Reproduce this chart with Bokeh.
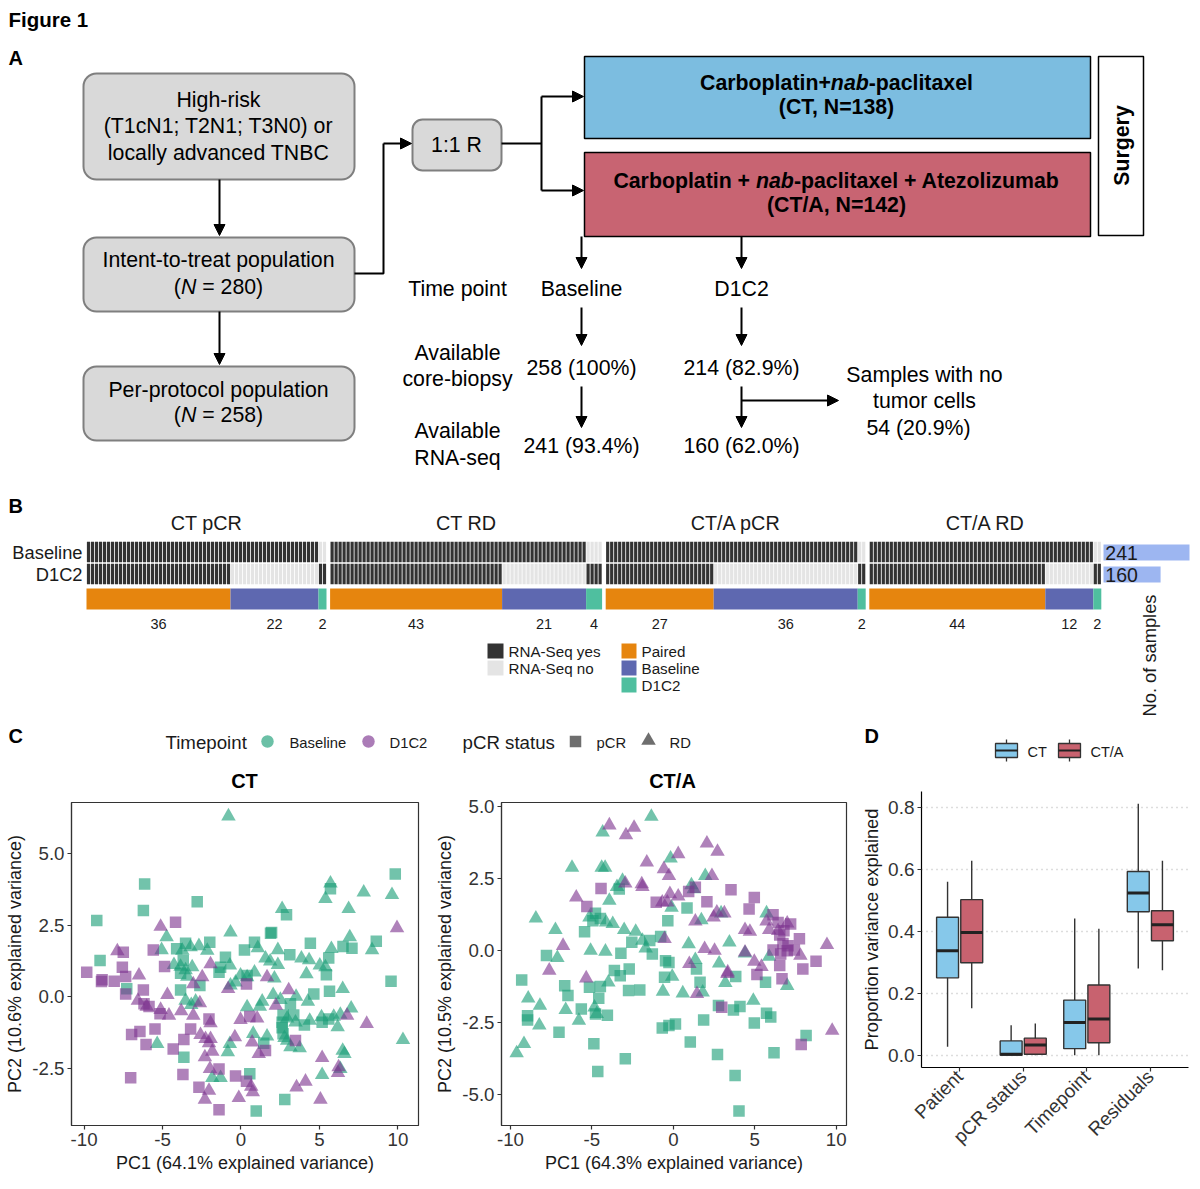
import numpy as np
from math import pi
from bokeh.plotting import figure
from bokeh.models import (Range1d, FixedTicker, NumeralTickFormatter, Arrow, NormalHead,
                          FactorRange, ColumnDataSource)
from bokeh.layouts import column, row
from bokeh.embed import file_html
from bokeh.resources import INLINE
from bokeh.core.properties import value
from bokeh.transform import dodge

FONT = "Liberation Sans"
TXT = "#1a1a1a"

# ======================= DATA =======================
# Panel A (study design)
itt_n = "280"
pp_n = "258"
ct_n = "138"
cta_n = "142"
timepoints = ["Baseline", "D1C2"]
core_biopsy = ["258 (100%)", "214 (82.9%)"]
rna_seq = ["241 (93.4%)", "160 (62.0%)"]
no_tumor = "54 (20.9%)"

# Panel B (sample overview)
groups = ["CT pCR", "CT RD", "CT/A pCR", "CT/A RD"]
paired = [36, 43, 27, 44]
base_only = [22, 21, 36, 12]
d1c2_only = [2, 4, 2, 2]
rna_rows = ["Baseline", "D1C2"]
rna_totals = [241, 160]

# Panel C (PCA) -- CT arm
ct_base_pcr_pc1 = [9.83, -6.14, 5.70, -2.79, -6.22, 2.90, -9.19, 1.88, 1.95, 8.62, -1.99, 4.42, 6.50, 7.07, -4.10, -3.53, 0.22, 0.86, 3.11, -0.99, 5.59, -8.98, -1.30, -3.68, 5.44, 9.56, -3.85, -1.40, 0.39, -2.62, -7.28, -3.85, 5.64, 4.64, 3.15, 2.68, 3.36, 5.17, 5.59, 4.04, 2.62, 2.62, 2.68, 1.45, -3.64, 0.56, 2.79, 0.97]
ct_base_pcr_pc2 = [4.30, 3.95, 3.78, 3.33, 3.02, 2.87, 2.67, 2.23, 2.25, 1.95, 1.91, 1.88, 1.76, 1.70, 1.68, 1.88, 1.64, 1.91, 1.47, 1.39, 1.36, 1.27, 1.04, 1.27, 0.77, 0.55, 0.83, 0.86, 0.75, 0.40, 0.28, 0.24, 0.20, 0.10, -0.24, -0.63, -0.63, -0.89, -0.77, -0.98, -0.89, -1.08, -1.29, -1.62, -2.11, -2.69, -3.59, -3.99]
ct_base_rd_pc1 = [-0.80, 5.70, 5.38, 7.82, 9.62, 6.86, 2.62, -0.67, -4.74, 6.93, 8.35, 5.76, -5.06, -3.74, -3.21, -2.68, -2.15, 1.07, 2.35, 1.56, 3.85, 4.34, 1.86, 2.35, -0.71, -4.27, -3.85, -3.53, -3.11, 5.02, 5.38, 4.17, -3.42, 0.39, 0.86, -0.03, 2.13, -0.67, -0.35, 6.48, 2.05, -3.53, -2.89, -3.17, 1.35, 2.51, 4.26, 3.51, 0.39, 1.20, 7.02, 2.94, 5.13, 5.91, 6.33, 3.47, 4.38, 6.16, 2.77, 2.94, 0.78, 1.66, -0.71, 3.15, 3.74, 10.32, -5.34, -0.84, 6.48, 6.59, 6.33, 5.17, -1.83, -1.30]
ct_base_rd_pc2 = [6.32, 3.97, 3.43, 3.66, 3.57, 3.08, 3.08, 2.26, 2.09, 2.09, 1.64, 1.68, 1.64, 1.62, 1.74, 1.78, 1.62, 1.71, 1.64, 1.35, 1.35, 1.29, 1.24, 1.12, 1.10, 1.12, 1.06, 0.94, 1.04, 1.10, 1.04, 0.80, 0.71, 0.69, 0.86, 0.75, 0.65, 0.40, 0.51, 0.28, 0.07, -0.13, -0.16, -0.28, -0.16, -0.10, -0.16, 0.01, -0.36, -0.34, -0.40, -0.75, -0.71, -0.69, -0.62, -0.89, -0.83, -1.06, -1.43, -1.53, -1.29, -1.38, -1.64, -1.76, -1.79, -1.50, -1.64, -1.93, -1.88, -1.99, -2.52, -2.73, -2.83, -2.83]
ct_d1c2_pcr_pc1 = [-4.17, -5.59, -7.50, -7.56, -4.87, -9.83, -7.35, -8.89, -8.08, -8.85, 0.35, -7.35, -6.22, -6.18, -5.86, -5.16, 0.56, -2.04, -3.21, -5.48, -6.44, -6.97, -3.64, 3.47, -6.05, -4.32, 1.56, -1.40, -3.70, -0.35, -7.03, 0.35, -2.68, -1.40]
ct_d1c2_pcr_pc2 = [2.61, 1.64, 1.56, 1.04, 1.06, 0.86, 0.71, 0.54, 0.55, 0.60, 0.45, 0.10, 0.24, -0.24, -0.34, -0.59, -0.69, -0.77, -1.12, -1.12, -1.21, -1.32, -1.49, -1.53, -1.67, -1.82, -1.88, -2.52, -2.72, -2.77, -2.83, -2.95, -3.16, -3.95]
ct_d1c2_rd_pc1 = [9.94, -5.12, -7.88, -1.94, -6.50, -2.47, 1.66, -3.04, -0.82, 3.04, -4.69, -6.57, -2.62, 2.22, -6.01, -5.12, -4.59, -3.81, -3.04, -0.03, 1.03, 6.76, 8.01, -1.94, -0.39, -2.58, -2.26, -1.94, -2.04, 0.71, -1.83, 1.13, -2.30, 5.17, -1.98, 6.22, 6.18, 0.65, 4.11, 3.54, -2.04, 0.75, -2.30, -0.14, 5.06]
ct_d1c2_rd_pc2 = [2.41, 2.46, 1.60, 1.15, 0.75, 0.69, 0.69, 0.45, 0.28, 0.24, 0.07, -0.13, -0.22, -0.30, -0.34, -0.45, -0.65, -0.50, -0.65, -0.80, -0.75, -0.65, -0.94, -0.92, -1.41, -1.33, -1.47, -1.47, -1.62, -1.59, -1.91, -1.99, -2.11, -2.13, -2.52, -2.46, -2.66, -3.14, -2.96, -3.16, -3.28, -3.33, -3.59, -3.53, -3.59]

# Panel C (PCA) -- CT/A arm
cta_base_pcr_pc1 = [-3.32, 0.84, -4.78, -4.94, -4.48, -0.34, -5.45, -0.78, -2.55, -1.45, -3.22, -1.29, -7.79, -0.48, -0.27, -3.62, -2.71, 1.42, 3.83, 5.66, -0.54, -9.31, -5.15, -4.48, -3.26, -6.67, -6.47, -2.75, -2.06, 1.64, -4.58, -5.65, -4.78, -4.05, -8.95, -8.95, -7.02, 2.77, 3.69, 4.09, 5.72, 5.98, 1.86, 4.97, -0.68, -0.27, 0.13, 8.15, -4.88, 1.04, 2.71, 6.18, -2.95, -4.64, 3.79, 4.03]
cta_base_pcr_pc2 = [2.14, 1.48, 1.30, 1.04, 1.12, 1.04, 0.66, 0.49, 0.29, 0.35, -0.09, -0.12, -0.17, -0.35, -0.41, -0.69, -0.64, -0.64, -0.90, -1.10, -0.93, -1.02, -1.27, -1.25, -0.87, -1.22, -1.56, -1.39, -1.37, -1.10, -1.66, -2.03, -2.20, -2.25, -2.26, -2.41, -2.84, -1.91, -2.06, -1.94, -2.18, -2.31, -2.41, -2.52, -2.69, -2.60, -2.55, -2.95, -3.24, -3.18, -3.61, -3.55, -3.76, -4.20, -4.34, -5.58]
cta_base_rd_pc1 = [-1.35, -4.34, -0.17, -6.22, -4.40, -4.19, 1.96, -3.12, -3.46, 1.11, 1.25, -3.93, -0.11, 2.93, 5.72, -8.44, -5.15, -4.13, -3.72, 1.72, -7.24, -3.02, -2.31, -1.90, 0.94, 3.44, -5.08, -4.17, -1.70, 4.40, 5.88, -7.12, 1.35, 2.81, 6.99, -0.07, -3.99, 3.19, 1.80, 0.58, -0.64, -8.91, -8.19, -6.61, -4.84, -4.70, -5.80, -8.23, 4.91, -9.17, -9.62]
cta_base_rd_pc2 = [4.66, 4.11, 3.21, 2.89, 2.89, 2.89, 2.60, 2.43, 2.22, 2.28, 2.14, 1.74, 1.50, 1.30, 1.30, 1.12, 1.16, 0.98, 0.93, 1.06, 0.72, 0.72, 0.66, 0.35, 0.23, 0.29, 0.00, -0.03, 0.08, -0.09, -0.21, -0.25, -0.32, -0.44, -1.22, -0.90, -1.10, -1.12, -1.45, -1.48, -1.42, -1.66, -1.91, -2.06, -1.97, -2.20, -2.43, -2.60, -1.74, -3.24, -3.56]
cta_d1c2_pcr_pc1 = [-4.44, 1.35, 3.54, 0.94, 4.97, 2.06, -1.05, -5.31, 4.65, 6.12, 6.43, 7.20, 6.79, 6.53, 7.74, 6.73, 7.04, 6.12, 6.99, 7.43, 6.59, 6.53, 7.95, 8.76, 5.13, 6.67, 2.97, 7.85]
cta_d1c2_pcr_pc2 = [2.16, 2.20, 2.12, 2.06, 1.85, 1.70, 1.68, 1.53, 1.45, 1.25, 0.98, 0.93, 0.69, 0.54, 0.41, 0.25, 0.17, 0.02, 0.00, 0.02, -0.12, -0.52, -0.64, -0.37, -0.83, -0.98, -1.97, -3.26]
cta_d1c2_rd_pc1 = [-3.93, -2.41, -2.91, 2.06, 2.71, 0.30, -1.63, -0.58, -0.27, 2.37, -2.95, -1.94, -1.90, 0.30, -0.21, -5.96, -0.68, -0.37, 2.67, 3.13, 2.47, 1.35, 5.72, 6.99, 4.40, 4.70, 5.88, 6.43, -0.54, -6.77, 1.92, 9.43, 2.53, 4.40, 7.80, 0.98, 4.97, 5.41, 3.34, 3.32, -7.62, -5.35, 1.45, 9.75]
cta_d1c2_rd_pc2 = [4.36, 4.28, 4.02, 3.73, 3.44, 3.36, 3.07, 2.84, 2.60, 2.60, 2.34, 2.31, 2.22, 1.89, 1.97, 1.85, 1.68, 1.68, 1.33, 1.30, 1.16, 1.02, 1.02, 0.95, 0.72, 0.66, 0.72, 0.69, 0.41, 0.17, 0.06, 0.20, 0.00, -0.06, -0.17, -0.46, -0.38, -0.56, -0.75, -0.81, -0.69, -0.96, -1.50, -2.78]

# Panel D (variance partition boxplots)
vp_factors = ["Patient", "pCR status", "Timepoint", "Residuals"]
vp_ct_lo = [0.027, 0.000, 0.000, 0.280]
vp_ct_q1 = [0.250, 0.000, 0.021, 0.464]
vp_ct_med = [0.338, 0.003, 0.106, 0.525]
vp_ct_q3 = [0.446, 0.046, 0.178, 0.594]
vp_ct_hi = [0.561, 0.097, 0.442, 0.813]
vp_cta_lo = [0.152, 0.000, 0.000, 0.275]
vp_cta_q1 = [0.299, 0.003, 0.040, 0.370]
vp_cta_med = [0.397, 0.033, 0.117, 0.422]
vp_cta_q3 = [0.503, 0.055, 0.227, 0.467]
vp_cta_hi = [0.629, 0.102, 0.409, 0.629]

# ======================= STYLE =======================
GREEN = "#1B9E77"
PURPLE = "#7E3590"
C_CT = "#86C8EA"
C_CTA = "#C8626F"
BOX_GRAY = "#D9D9D9"
ARM_CT = "#7CBDE0"
ARM_CTA = "#C86472"
B_BLACK = "#333333"
B_GRAY = "#E4E4E4"
B_PAIRED = "#E6850E"
B_BASE = "#5E68B0"
B_D1C2 = "#4FBF9F"
B_CNT = "#9DB6F1"
FA = 21.3   # panel A font size

W_REG = {' ': 278, '(': 333, ')': 333, '=': 584, '+': 584, '-': 333, 'N': 722}
W_BOLD = {' ': 278, '(': 333, ')': 333, '+': 584, '-': 333, 'C': 722, 'A': 722, 'a': 556,
          'b': 611, 'c': 556, 'e': 556, 'i': 278, 'l': 278, 'n': 611, 'o': 611, 'p': 611,
          'r': 389, 't': 333, 'u': 611, 'x': 556, 'z': 500, 'm': 889, 'T': 611}


def tw(s, bold):
    d = W_BOLD if bold else W_REG
    return sum(d.get(ch, 556) for ch in s) / 1000.0


def blank(w, h, xr, yr, **kw):
    p = figure(width=w, height=h, x_range=xr, y_range=yr, output_backend="svg",
               toolbar_location=None, x_axis_type=None, y_axis_type=None, min_border=0, **kw)
    p.outline_line_color = None
    p.background_fill_color = "white"
    p.border_fill_color = "white"
    return p


def T(p, x, y, s, size=FA, align="center", style="normal", angle=0, color="black",
      x_range_name="default"):
    p.text([x], [y], [s], text_align=align, text_baseline="middle", angle=angle,
           text_font=value(FONT), text_font_size=f"{size}px", text_font_style=style,
           text_color=color, x_range_name=x_range_name)


def rich(p, xc, y, parts, size):
    total = sum(tw(t, 'bold' in s) for t, s in parts) * size
    x = xc - total / 2
    for t, s in parts:
        b = 'bold' in s
        lead = len(t) - len(t.lstrip())
        xx = x + tw(t[:lead], b) * size
        T(p, xx, y, t.strip(), size=size, align="left", style=s)
        x += tw(t, b) * size


def arrow(p, x0, y0, x1, y1):
    p.add_layout(Arrow(end=NormalHead(size=11, fill_color="black", line_color="black", line_width=1),
                       x_start=x0, y_start=y0, x_end=x1, y_end=y1,
                       line_color="black", line_width=2))


# ======================= PANEL A =======================
pA = blank(1192, 485, Range1d(0, 1192), Range1d(485, 0))
T(pA, 8, 19, "Figure 1", size=20.5, align="left", style="bold")
T(pA, 8, 57, "A", size=20, align="left", style="bold")

pA.quad(left=[83, 83, 83], right=[354, 354, 354], top=[73, 237, 366], bottom=[179, 311, 440],
        fill_color=BOX_GRAY, line_color="#7F7F7F", line_width=2, border_radius=13)
T(pA, 218, 99, "High-risk")
T(pA, 218, 125, "(T1cN1; T2N1; T3N0) or")
T(pA, 218, 152, "locally advanced TNBC")
T(pA, 218, 259, "Intent-to-treat population")
rich(pA, 218, 286, [("(", "normal"), ("N", "italic"), (" = " + itt_n + ")", "normal")], FA)
T(pA, 218, 389, "Per-protocol population")
rich(pA, 218, 414, [("(", "normal"), ("N", "italic"), (" = " + pp_n + ")", "normal")], FA)
arrow(pA, 219, 179, 219, 235)
arrow(pA, 219, 311, 219, 364)

pA.line([354, 383, 383], [273, 273, 143], line_color="black", line_width=2)
arrow(pA, 383, 143, 411, 143)
pA.quad(left=[412], right=[501], top=[119], bottom=[170], fill_color=BOX_GRAY,
        line_color="#7F7F7F", line_width=2, border_radius=10)
T(pA, 456, 144, "1:1 R")
pA.line([501, 541], [143, 143], line_color="black", line_width=2)
pA.line([541, 541], [96, 190], line_color="black", line_width=2)
arrow(pA, 541, 96, 583, 96)
arrow(pA, 541, 190, 583, 190)

pA.quad(left=[584], right=[1090], top=[56], bottom=[138], fill_color=ARM_CT,
        line_color="black", line_width=1.5)
pA.quad(left=[584], right=[1090], top=[152], bottom=[236], fill_color=ARM_CTA,
        line_color="black", line_width=1.5)
pA.quad(left=[1098], right=[1143], top=[56], bottom=[235], fill_color="white",
        line_color="black", line_width=1.5)
T(pA, 1121, 145, "Surgery", size=FA, style="bold", angle=pi / 2)
rich(pA, 836, 82, [("Carboplatin+", "bold"), ("nab", "bold italic"), ("-paclitaxel", "bold")], FA)
T(pA, 836, 106, "(CT, N=" + ct_n + ")", size=FA, style="bold")
rich(pA, 836, 180, [("Carboplatin + ", "bold"), ("nab", "bold italic"),
                    ("-paclitaxel + Atezolizumab", "bold")], FA)
T(pA, 836, 204, "(CT/A, N=" + cta_n + ")", size=FA, style="bold")

T(pA, 457, 288, "Time point")
T(pA, 457, 352, "Available")
T(pA, 457, 378, "core-biopsy")
T(pA, 457, 430, "Available")
T(pA, 457, 457, "RNA-seq")
col_x = [581, 741]
for i in range(2):
    arrow(pA, col_x[i], 236, col_x[i], 268)
    T(pA, col_x[i], 288, timepoints[i])
    arrow(pA, col_x[i], 307, col_x[i], 345)
    T(pA, col_x[i], 367, core_biopsy[i])
    arrow(pA, col_x[i], 386, col_x[i], 427)
    T(pA, col_x[i], 445, rna_seq[i])
arrow(pA, 741, 400, 838, 400)
T(pA, 924, 374, "Samples with no")
T(pA, 924, 400, "tumor cells")
T(pA, 918, 427, no_tumor)

# ======================= PANEL B =======================
PXU = 4.0                       # pixels per sample
X0 = 86.0                       # page x of first sample
GAP = 0.9


def u(px):
    return (px - X0) / PXU


pB = blank(1192, 235, Range1d(u(0), u(1192)), Range1d(720, 485))
cnt_px = 86.0 / 241.0
pB.extra_x_ranges = {"cnt": Range1d(-1103 / cnt_px, (1192 - 1103) / cnt_px)}
T(pB, u(8), 505, "B", size=20, align="left", style="bold")

sizes = [a + b + c for a, b, c in zip(paired, base_only, d1c2_only)]
offs = []
o = 0.0
for s in sizes:
    offs.append(o)
    o += s + GAP

ROW_Y = [551.5, 573.5]
tx, ty, tc = [], [], []
segL, segR, segC = [], [], []
num_x, num_t = [], []
for g in range(4):
    n_p, n_b, n_d = paired[g], base_only[g], d1c2_only[g]
    base_has = [1] * (n_p + n_b) + [0] * n_d
    d1_has = [1] * n_p + [0] * n_b + [1] * n_d
    for k in range(sizes[g]):
        tx += [offs[g] + k + 0.5, offs[g] + k + 0.5]
        ty += ROW_Y
        tc += [B_BLACK if base_has[k] else B_GRAY, B_BLACK if d1_has[k] else B_GRAY]
    edges = [0, n_p, n_p + n_b, n_p + n_b + n_d]
    for j, col in enumerate([B_PAIRED, B_BASE, B_D1C2]):
        segL.append(offs[g] + edges[j])
        segR.append(offs[g] + edges[j + 1])
        segC.append(col)
        num_x.append(offs[g] + (edges[j] + edges[j + 1]) / 2)
        num_t.append(str([n_p, n_b, n_d][j]))
    T(pB, offs[g] + sizes[g] / 2, 522, groups[g], size=19.8, color=TXT)

pB.rect(x=tx, y=ty, width=0.8, height=20.5, fill_color=tc, line_color=None)
pB.quad(left=segL, right=segR, top=588, bottom=609, fill_color=segC, line_color=None)
pB.text(num_x, [623] * len(num_x), num_t, text_align="center", text_baseline="middle",
        text_font=value(FONT), text_font_size="14.5px", text_color=TXT)
for i in range(2):
    T(pB, u(82), ROW_Y[i] + 0.5, rna_rows[i], size=18.3, align="right", color=TXT)

pB.quad(left=[0, 0], right=rna_totals, top=[544, 566], bottom=[560, 582],
        fill_color=B_CNT, line_color=None, x_range_name="cnt")
for i in range(2):
    T(pB, 5, [552.5, 574.5][i], str(rna_totals[i]), size=19.5, align="left", color=TXT,
      x_range_name="cnt")
T(pB, u(1149), 655, "No. of samples", size=18.3, angle=pi / 2, color=TXT)

# legend
pB.quad(left=[u(487), u(487)], right=[u(503), u(503)], top=[643, 660], bottom=[658, 675],
        fill_color=[B_BLACK, B_GRAY], line_color=None)
T(pB, u(508), 650.5, "RNA-Seq yes", size=15.2, align="left", color=TXT)
T(pB, u(508), 667.5, "RNA-Seq no", size=15.2, align="left", color=TXT)
pB.quad(left=[u(621)] * 3, right=[u(636)] * 3, top=[643, 660, 677], bottom=[658, 675, 692],
        fill_color=[B_PAIRED, B_BASE, B_D1C2], line_color=None)
T(pB, u(641), 650.5, "Paired", size=15.2, align="left", color=TXT)
T(pB, u(641), 667.5, "Baseline", size=15.2, align="left", color=TXT)
T(pB, u(641), 684.5, "D1C2", size=15.2, align="left", color=TXT)

# ======================= PANEL C =======================
pCl = blank(858, 75, Range1d(0, 858), Range1d(795, 720))
T(pCl, 8, 735, "C", size=20, align="left", style="bold")
T(pCl, 165, 742, "Timepoint", size=18.7, align="left", color=TXT)
pCl.scatter([267, 368], [741, 741], marker="circle", size=12.5, fill_color=[GREEN, PURPLE],
            fill_alpha=0.65, line_color=None)
T(pCl, 289, 742, "Baseline", size=14.8, align="left", color=TXT)
T(pCl, 389, 742, "D1C2", size=14.8, align="left", color=TXT)
T(pCl, 462, 742, "pCR status", size=18.7, align="left", color=TXT)
pCl.scatter([575], [741], marker="square", size=11.5, fill_color="#555555", fill_alpha=0.85,
            line_color=None)
pCl.scatter([648], [740], marker="triangle", size=14.5, fill_color="#555555", fill_alpha=0.85,
            line_color=None)
T(pCl, 596, 742, "pCR", size=14.8, align="left", color=TXT)
T(pCl, 669, 742, "RD", size=14.8, align="left", color=TXT)
T(pCl, 244, 780, "CT", size=20, style="bold")
T(pCl, 672, 780, "CT/A", size=20, style="bold")


def style_axes(p, tick_size="18.7px", lab_size="18px"):
    for ax in (p.xaxis, p.yaxis):
        ax.axis_line_color = "#333333"
        ax.axis_line_width = 1.2
        ax.major_tick_line_color = "#333333"
        ax.major_tick_line_width = 1.2
        ax.major_tick_in = 0
        ax.major_tick_out = 4
        ax.minor_tick_line_color = None
        ax.major_label_text_font = FONT
        ax.major_label_text_font_size = tick_size
        ax.major_label_text_color = "#333333"
        ax.major_label_standoff = 3
        ax.axis_label_text_font = FONT
        ax.axis_label_text_font_size = lab_size
        ax.axis_label_text_font_style = "normal"
        ax.axis_label_text_color = TXT
        ax.axis_label_standoff = 4


def lab(v, fmt):
    return fmt.format(v).replace("\u2212", "-")


def pca_fig(w, h, xr, yr, borders, xlab, ylab, yticks, sets):
    p = figure(width=w, height=h, x_range=Range1d(*xr), y_range=Range1d(*yr),
               output_backend="svg", toolbar_location=None,
               min_border_left=borders[0], min_border_right=borders[1],
               min_border_top=borders[2], min_border_bottom=borders[3])
    p.grid.visible = False
    p.outline_line_color = "#333333"
    p.outline_line_width = 1.2
    p.background_fill_color = "white"
    style_axes(p)
    xt = [-10, -5, 0, 5, 10]
    p.xaxis.ticker = FixedTicker(ticks=xt)
    p.xaxis.major_label_overrides = {t: lab(t, "{:d}") for t in xt}
    p.yaxis.ticker = FixedTicker(ticks=yticks)
    p.yaxis.major_label_overrides = {t: lab(t, "{:.1f}") for t in yticks}
    p.xaxis.axis_label = xlab
    p.yaxis.axis_label = ylab
    for xs, ys, mk, col in sets:
        p.scatter(xs, ys, marker=mk, size=(11.5 if mk == "square" else 14.5),
                  fill_color=col, fill_alpha=0.62, line_color=None)
    return p


pC1 = pca_fig(432, 386, (-10.8, 11.31), (-4.50, 6.80), (71, 14, 7, 56),
              "PC1 (64.1% explained variance)", "PC2 (10.6% explained variance)",
              [-2.5, 0.0, 2.5, 5.0],
              [(ct_base_pcr_pc1, ct_base_pcr_pc2, "square", GREEN),
               (ct_base_rd_pc1, ct_base_rd_pc2, "triangle", GREEN),
               (ct_d1c2_pcr_pc1, ct_d1c2_pcr_pc2, "square", PURPLE),
               (ct_d1c2_rd_pc1, ct_d1c2_rd_pc2, "triangle", PURPLE)])
pC2 = pca_fig(426, 386, (-10.55, 10.63), (-6.08, 5.15), (66, 12, 7, 56),
              "PC1 (64.3% explained variance)", "PC2 (10.5% explained variance)",
              [-5.0, -2.5, 0.0, 2.5, 5.0],
              [(cta_base_pcr_pc1, cta_base_pcr_pc2, "square", GREEN),
               (cta_base_rd_pc1, cta_base_rd_pc2, "triangle", GREEN),
               (cta_d1c2_pcr_pc1, cta_d1c2_pcr_pc2, "square", PURPLE),
               (cta_d1c2_rd_pc1, cta_d1c2_rd_pc2, "triangle", PURPLE)])

# ======================= PANEL D =======================
D_LEFT, D_RIGHT = 61, 4
pDl = blank(334, 70, Range1d(858, 1192), Range1d(790, 720))
T(pDl, 864, 735, "D", size=20, align="left", style="bold")
for kx, col, lb in [(995, C_CT, "CT"), (1058, C_CTA, "CT/A")]:
    pDl.segment([kx + 11, kx + 11], [739, 757], [kx + 11, kx + 11], [743, 761],
                line_color="#333333", line_width=1.3)
    pDl.quad(left=[kx], right=[kx + 22], top=[743], bottom=[757], fill_color=col,
             line_color="#333333", line_width=1.3)
    pDl.segment([kx], [750], [kx + 22], [750], line_color="#222222", line_width=2)
    T(pDl, kx + 32, 751, lb, size=14.5, align="left", color=TXT)

pD = figure(width=334, height=391,
            x_range=FactorRange(factors=vp_factors, range_padding=0.1,
                                range_padding_units="absolute"),
            y_range=Range1d(-0.04, 0.853), output_backend="svg", toolbar_location=None,
            min_border_left=D_LEFT, min_border_right=D_RIGHT, min_border_top=1,
            min_border_bottom=114)
pD.outline_line_color = None
pD.background_fill_color = "white"
style_axes(pD, tick_size="19px", lab_size="18.3px")
pD.yaxis.axis_label_standoff = 3
pD.axis.axis_line_color = "black"
pD.xgrid.visible = False
yt = [0.0, 0.2, 0.4, 0.6, 0.8]
pD.ygrid.ticker = FixedTicker(ticks=yt)
pD.ygrid.grid_line_color = "#BBBBBB"
pD.ygrid.grid_line_dash = "1 4"
pD.ygrid.grid_line_width = 1.6
pD.yaxis.ticker = FixedTicker(ticks=yt)
pD.yaxis.major_label_overrides = {t: "{:.1f}".format(t) for t in yt}
pD.yaxis.axis_label = "Proportion variance explained"
pD.xaxis.major_label_orientation = pi / 4
pD.xaxis.major_label_standoff = 2

BW = 0.345
for off, col, lo, q1, med, q3, hi in [
        (-0.19, C_CT, vp_ct_lo, vp_ct_q1, vp_ct_med, vp_ct_q3, vp_ct_hi),
        (0.19, C_CTA, vp_cta_lo, vp_cta_q1, vp_cta_med, vp_cta_q3, vp_cta_hi)]:
    src = ColumnDataSource(dict(cat=vp_factors, lo=lo, q1=q1, med=med, q3=q3, hi=hi))
    xc = dodge("cat", off, range=pD.x_range)
    pD.segment(x0=xc, y0="lo", x1=xc, y1="hi", source=src, line_color="#333333",
               line_width=1.4)
    pD.vbar(x=xc, top="q3", bottom="q1", width=BW, source=src, fill_color=col,
            line_color="#333333", line_width=1.4)
    pD.segment(x0=dodge("cat", off - BW / 2, range=pD.x_range), y0="med",
               x1=dodge("cat", off + BW / 2, range=pD.x_range), y1="med", source=src,
               line_color="#222222", line_width=3)

layout = column(pA, pB,
                row(column(pCl, row(pC1, pC2)), column(pDl, row(pD))))
open("out.html", "w").write(file_html(layout, INLINE))
